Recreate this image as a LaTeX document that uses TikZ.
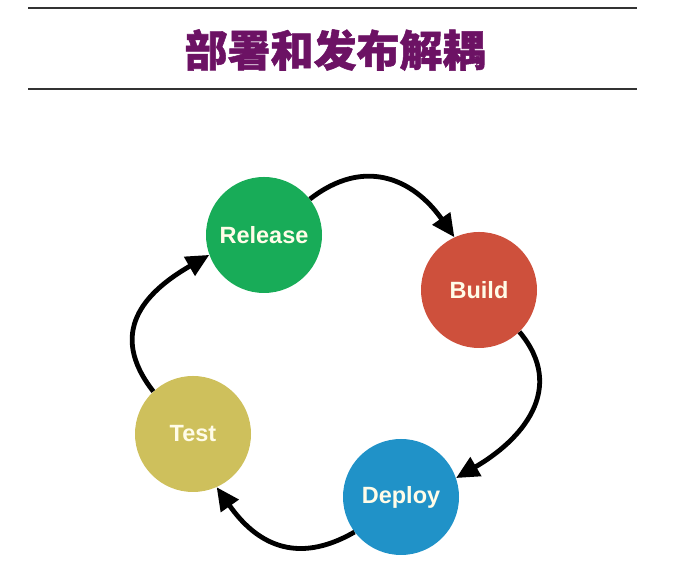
\documentclass[tikz,border=0pt]{standalone}
\usepackage{fontspec}
\setmainfont{Liberation Sans}
\newfontfamily\cjk{Noto Sans CJK SC}[BoldFeatures={FakeBold=1.2}]
\usetikzlibrary{arrows.meta, positioning}

\definecolor{relgreen}{RGB}{24,172,88}
\definecolor{bldred}{RGB}{206,80,60}
\definecolor{depblue}{RGB}{32,146,200}
\definecolor{tstyellow}{RGB}{206,192,92}
\definecolor{ttlpurple}{RGB}{108,18,100}
\definecolor{txtcream}{RGB}{255,252,232}

\begin{document}
\begin{tikzpicture}[
        x=1pt, y=1pt,
        stage/.style={circle, draw=none, minimum size=116pt, inner sep=0pt, text=txtcream, font=\fontsize{23.5}{27}\selectfont\bfseries},
        flow/.style={-{Triangle[length=23pt, width=21pt]}, line width=4.8pt, draw=black, looseness=1.2},
        rule/.style={line width=1.2pt, draw=black!80}
    ]
        \useasboundingbox (0,0) rectangle (681,567);
        % title between two rules
        \draw[rule] (28,559) -- (637,559);
        \draw[rule] (28,478) -- (637,478);
        \node[text=ttlpurple, font=\cjk\fontsize{43}{48}\selectfont\bfseries] (title) at (335,517) {部署和发布解耦};
        % the cycle
        \node[stage, fill=relgreen] (rel) at (264,332) {Release};
        \node[stage, fill=bldred] (bld) at (479,277) {Build};
        \node[stage, fill=depblue] (dep) at (401,70) {Deploy};
        \node[stage, fill=tstyellow] (tst) at (193,133) {Test};
        \draw[flow] (rel.38) to[out=38, in=125] (bld.115);
        \draw[flow] (bld.-46) to[out=-50, in=30] (dep.19);
        \draw[flow] (dep.217) to[out=210, in=-55] (tst.-66);
        \draw[flow] (tst.133) to[out=128, in=210, looseness=1.3] (rel.200);
    \end{tikzpicture}
\end{document}
